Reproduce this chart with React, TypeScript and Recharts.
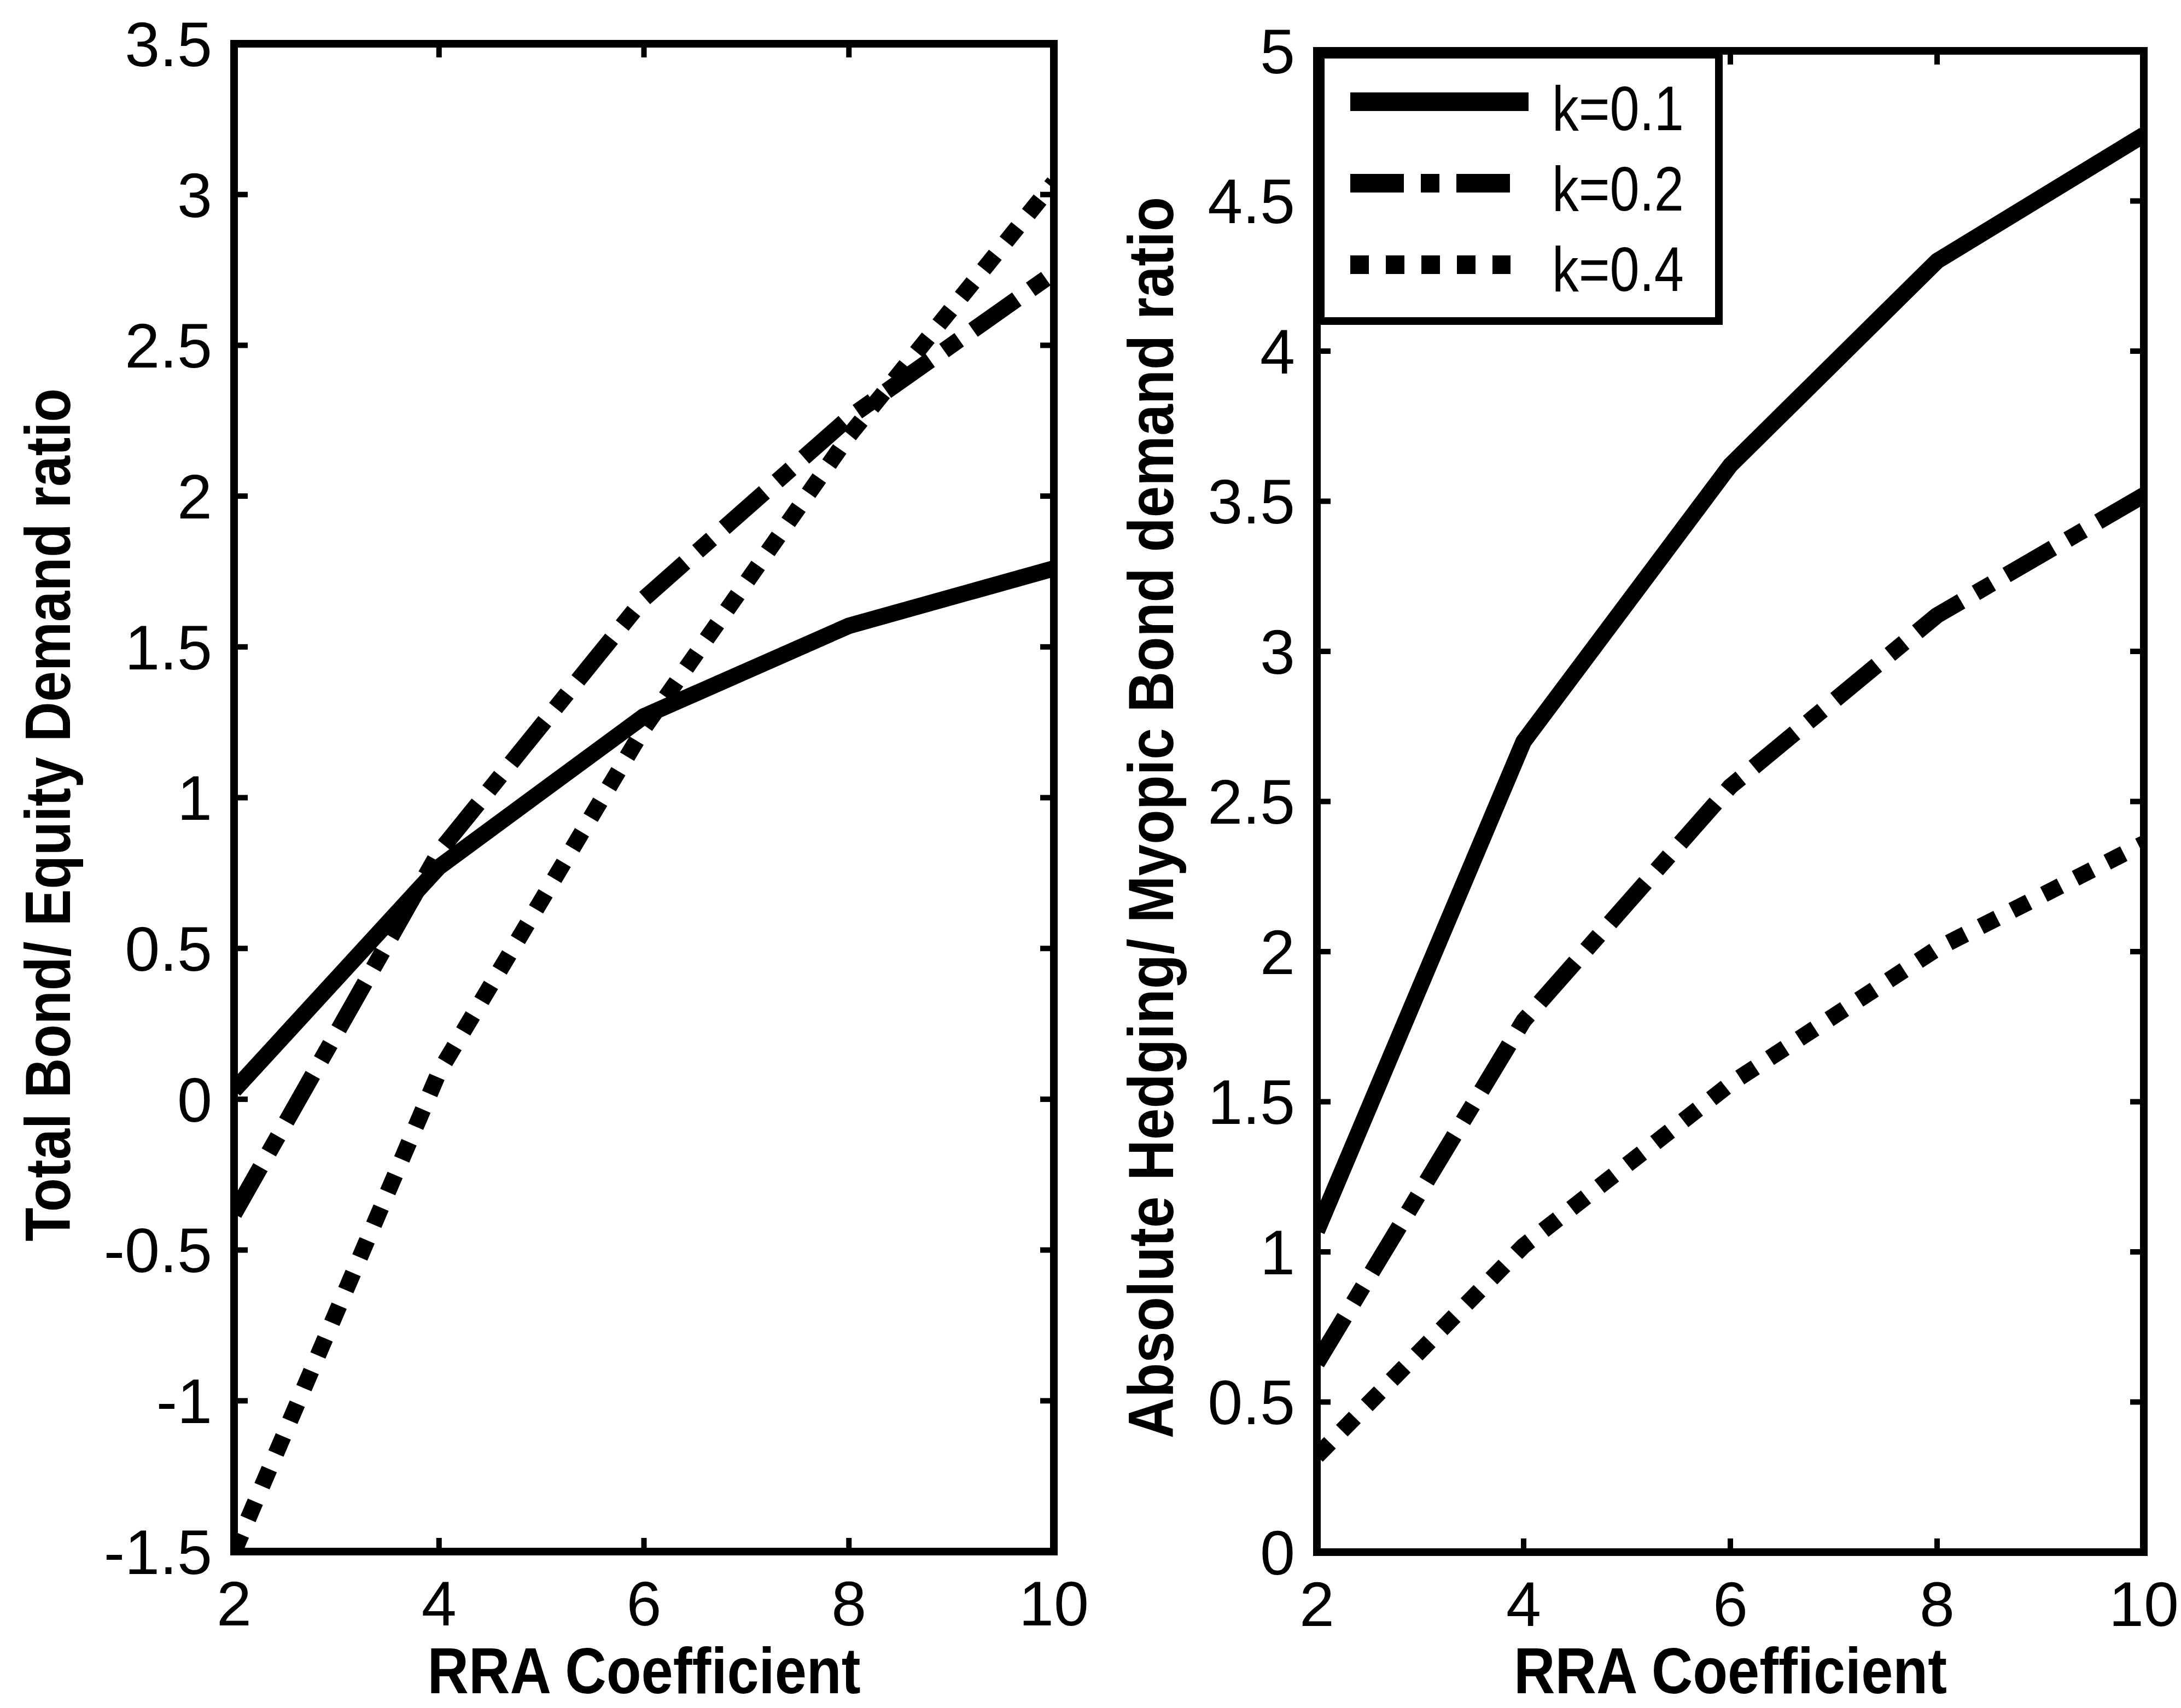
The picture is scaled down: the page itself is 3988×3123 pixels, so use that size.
import { LineChart, Line, XAxis, YAxis, Legend, Label } from 'recharts';

// RRA coefficient grid
const rra = [2, 4, 6, 8, 10];

// left panel: total bond / equity demand ratio
const totalK01 = [0.03, 0.77, 1.27, 1.57, 1.76];
const totalK02 = [-0.38, 0.82, 1.66, 2.26, 2.74];
const totalK04 = [-1.5, 0.09, 1.23, 2.2, 3.04];

// right panel: absolute hedging / myopic bond demand ratio
const hedgeK01 = [1.07, 2.7, 3.62, 4.3, 4.72];
const hedgeK02 = [0.63, 1.77, 2.55, 3.12, 3.52];
const hedgeK04 = [0.32, 1.02, 1.56, 2.01, 2.36];

const seriesNames = ['k=0.1', 'k=0.2', 'k=0.4'];
const seriesKeys = ['k01', 'k02', 'k04'];

const xTicks = [2, 4, 6, 8, 10];
const leftTicks = [-1.5, -1, -0.5, 0, 0.5, 1, 1.5, 2, 2.5, 3, 3.5];
const rightTicks = [0, 0.5, 1, 1.5, 2, 2.5, 3, 3.5, 4, 4.5, 5];

const xLabel = 'RRA Coefficient';
const leftYLabel = 'Total Bond/ Equity Demand ratio';
const rightYLabel = 'Absolute Hedging/ Myopic Bond demand ratio';

const FONT = "'Liberation Sans', Arial, Helvetica, sans-serif";
const dashes = ['', '98 31 34 31', '34 31'];

const toRows = (a: number[], b: number[], c: number[]) =>
  rra.map((x, i) => ({ x, k01: a[i], k02: b[i], k04: c[i] }));

const leftData = toRows(totalK01, totalK02, totalK04);
const rightData = toRows(hedgeK01, hedgeK02, hedgeK04);

const axisLine = { stroke: '#000', strokeWidth: 14, strokeLinecap: 'square' as const };
const tickLine = { stroke: '#000', strokeWidth: 10 };
const tickFont = { fill: '#000', fontSize: 115, fontFamily: FONT };
const blank = () => '';

interface PanelProps {
  data: { x: number }[];
  width: number;
  plotLeft: number;
  plotWidth: number;
  plotTop: number;
  plotBottom: number;
  yDomain: [number, number];
  yTicks: number[];
  yLabel: string;
  yLabelX: number;
  yLabelY: number;
  yLabelLength: number;
  withLegend?: boolean;
}

function LegendBox() {
  return (
    <svg width={742} height={501} style={{ display: 'block' }}>
      <rect x={7} y={7} width={728} height={487} fill="#fff" stroke="#000" strokeWidth={14} />
      {seriesNames.map((name, i) => (
        <g key={name}>
          <line
            x1={61}
            x2={i === 0 ? 387 : 354}
            y1={93 + i * 149}
            y2={93 + i * 149}
            stroke="#000"
            strokeWidth={34}
            strokeDasharray={dashes[i]}
          />
          <text
            x={430}
            y={145 + i * 147}
            fontSize={115}
            fontFamily={FONT}
            fill="#000"
            textLength={241}
            lengthAdjust="spacingAndGlyphs"
          >
            {name}
          </text>
        </g>
      ))}
    </svg>
  );
}

function Panel(p: PanelProps) {
  const height = 3123;
  const rightW = p.width - p.plotLeft - p.plotWidth;
  const bottomH = height - p.plotBottom;
  const centerX = p.plotLeft + p.plotWidth / 2;
  return (
    <LineChart
      width={p.width}
      height={height}
      data={p.data}
      margin={{ top: 0, right: 0, bottom: 0, left: 0 }}
      style={{ overflow: 'visible' }}
    >
      <XAxis
        xAxisId="b"
        dataKey="x"
        type="number"
        domain={[2, 10]}
        ticks={xTicks}
        interval={0}
        allowDataOverflow
        height={bottomH}
        tickSize={-25}
        tickMargin={78}
        axisLine={axisLine}
        tickLine={tickLine}
        tick={tickFont}
      >
        <Label
          content={() => (
            <text
              x={centerX}
              y={3096}
              textAnchor="middle"
              fontSize={118}
              fontWeight="bold"
              fontFamily={FONT}
              fill="#000"
              textLength={792}
              lengthAdjust="spacingAndGlyphs"
            >
              {xLabel}
            </text>
          )}
        />
      </XAxis>
      <XAxis
        xAxisId="t"
        orientation="top"
        dataKey="x"
        type="number"
        domain={[2, 10]}
        ticks={xTicks}
        interval={0}
        allowDataOverflow
        height={p.plotTop}
        tickSize={-25}
        axisLine={axisLine}
        tickLine={tickLine}
        tickFormatter={blank}
      />
      <YAxis
        yAxisId="l"
        type="number"
        domain={p.yDomain}
        ticks={p.yTicks}
        interval={0}
        allowDataOverflow
        width={p.plotLeft}
        tickSize={-25}
        tickMargin={65}
        axisLine={axisLine}
        tickLine={tickLine}
        tick={tickFont}
      >
        <Label
          content={() => (
            <text
              x={p.yLabelX}
              y={p.yLabelY}
              transform={`rotate(-90, ${p.yLabelX}, ${p.yLabelY})`}
              textAnchor="middle"
              fontSize={116}
              fontWeight="bold"
              fontFamily={FONT}
              fill="#000"
              textLength={p.yLabelLength}
              lengthAdjust="spacingAndGlyphs"
            >
              {p.yLabel}
            </text>
          )}
        />
      </YAxis>
      <YAxis
        yAxisId="r"
        orientation="right"
        type="number"
        domain={p.yDomain}
        ticks={p.yTicks}
        interval={0}
        allowDataOverflow
        width={rightW}
        tickSize={-25}
        axisLine={axisLine}
        tickLine={tickLine}
        tickFormatter={blank}
      />
      {seriesKeys.map((key, i) => (
        <Line
          key={key}
          xAxisId="b"
          yAxisId="l"
          type="linear"
          dataKey={key}
          name={seriesNames[i]}
          stroke="#000"
          strokeWidth={30}
          strokeDasharray={dashes[i] || undefined}
          strokeLinejoin="round"
          dot={false}
          activeDot={false}
          isAnimationActive={false}
        />
      ))}
      {p.withLegend && (
        <Legend
          layout="vertical"
          align="center"
          verticalAlign="middle"
          wrapperStyle={{ left: p.plotLeft, top: p.plotTop, width: 742, height: 501 }}
          content={() => <LegendBox />}
        />
      )}
    </LineChart>
  );
}

export default function App() {
  return (
    <div style={{ position: 'absolute', left: 0, top: 0, width: 3988, height: 3123, background: '#fff', overflow: 'hidden' }}>
      <div style={{ position: 'absolute', left: 0, top: 0 }}>
        <Panel
          data={leftData}
          width={2040}
          plotLeft={428}
          plotWidth={1499}
          plotTop={80}
          plotBottom={2837}
          yDomain={[-1.5, 3.5]}
          yTicks={leftTicks}
          yLabel={leftYLabel}
          yLabelX={128}
          yLabelY={1490}
          yLabelLength={1560}
        />
      </div>
      <div style={{ position: 'absolute', left: 2040, top: 0 }}>
        <Panel
          data={rightData}
          width={1948}
          plotLeft={368}
          plotWidth={1512}
          plotTop={93}
          plotBottom={2838}
          yDomain={[0, 5]}
          yTicks={rightTicks}
          yLabel={rightYLabel}
          yLabelX={105}
          yLabelY={1495}
          yLabelLength={2270}
          withLegend
        />
      </div>
    </div>
  );
}
